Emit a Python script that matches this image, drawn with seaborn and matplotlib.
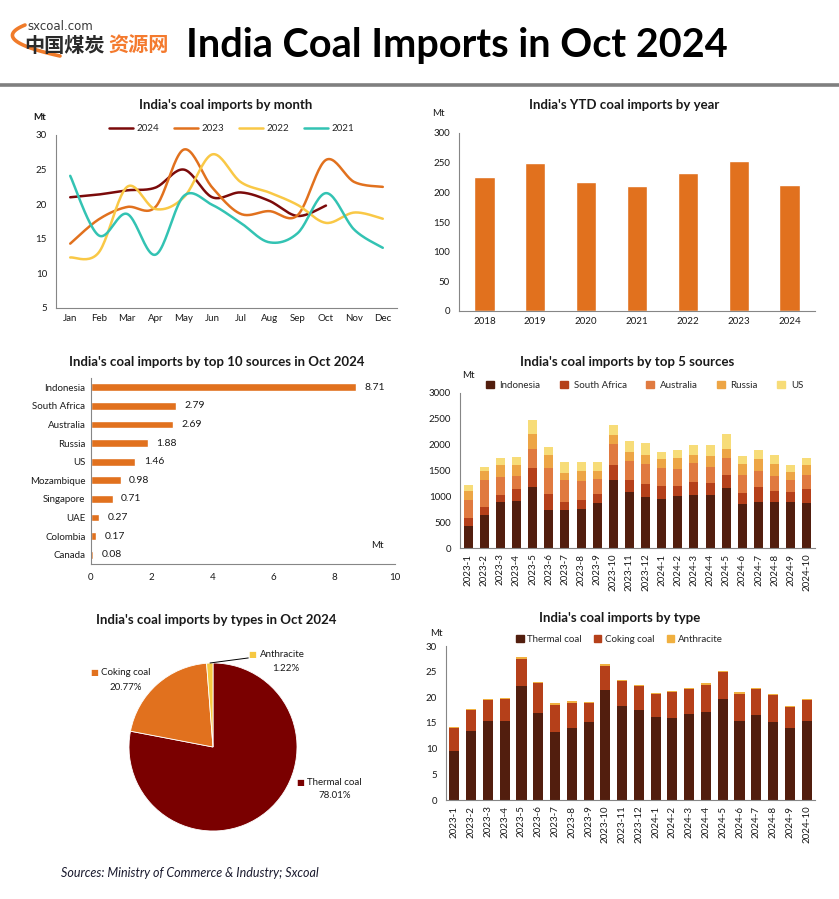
import numpy as np
import pandas as pd
import matplotlib
matplotlib.use("Agg")
import matplotlib.pyplot as plt
from matplotlib.patches import Patch
import seaborn as sns

# ---- data ----
months = ['Jan', 'Feb', 'Mar', 'Apr', 'May', 'Jun', 'Jul', 'Aug', 'Sep', 'Oct', 'Nov', 'Dec']
imp_2024 = [21.0, 21.4, 22.0, 22.4, 25.0, 21.0, 21.7, 20.5, 18.3, 19.8]
imp_2023 = [14.3, 17.8, 19.6, 19.6, 27.9, 22.4, 18.6, 19.0, 18.4, 26.4, 23.2, 22.5]
imp_2022 = [12.3, 13.0, 22.5, 19.3, 21.0, 27.2, 23.2, 21.7, 19.9, 17.3, 18.8, 17.9]
imp_2021 = [24.1, 15.5, 18.6, 12.7, 21.2, 19.9, 17.3, 14.5, 15.8, 21.6, 16.3, 13.7]

ytd_years = ['2018', '2019', '2020', '2021', '2022', '2023', '2024']
ytd_vals = [226, 250, 218, 211, 233, 252, 213]

top10_names = ['Indonesia', 'South Africa', 'Australia', 'Russia', 'US',
               'Mozambique', 'Singapore', 'UAE', 'Colombia', 'Canada']
top10_vals = [8.71, 2.79, 2.69, 1.88, 1.46, 0.98, 0.71, 0.27, 0.17, 0.08]

periods = ['2023-1', '2023-2', '2023-3', '2023-4', '2023-5', '2023-6', '2023-7', '2023-8',
           '2023-9', '2023-10', '2023-11', '2023-12', '2024-1', '2024-2', '2024-3', '2024-4',
           '2024-5', '2024-6', '2024-7', '2024-8', '2024-9', '2024-10']
src_indonesia = [430, 640, 890, 910, 1180, 740, 740, 760, 870, 1320, 1090, 990,
                 950, 1010, 1030, 1030, 1160, 860, 890, 890, 890, 870]
src_safrica = [150, 160, 140, 230, 370, 310, 150, 170, 180, 290, 230, 250,
               250, 190, 250, 230, 250, 210, 290, 220, 200, 270]
src_australia = [350, 520, 350, 260, 370, 500, 430, 370, 290, 400, 360, 390,
                 350, 330, 370, 310, 330, 340, 310, 290, 230, 270]
src_russia = [170, 170, 230, 210, 290, 250, 130, 190, 150, 180, 180, 170,
              170, 210, 150, 210, 180, 220, 230, 230, 150, 200]
src_us = [120, 80, 130, 150, 270, 160, 210, 170, 170, 190, 210, 230,
          140, 160, 190, 210, 280, 150, 180, 170, 140, 130]

type_thermal = [9.6, 13.5, 15.3, 15.3, 22.3, 17.0, 13.3, 14.1, 15.1, 21.5, 18.4, 17.6,
                16.2, 16.0, 16.8, 17.2, 19.7, 15.3, 16.6, 15.1, 14.1, 15.4]
type_coking = [4.5, 4.1, 4.2, 4.4, 5.2, 5.7, 5.3, 4.7, 3.7, 4.7, 4.8, 4.7,
               4.5, 5.1, 4.9, 5.3, 5.3, 5.4, 5.1, 5.4, 4.1, 4.1]
type_anthracite = [0.2, 0.2, 0.2, 0.2, 0.4, 0.2, 0.2, 0.4, 0.2, 0.2, 0.2, 0.2,
                   0.2, 0.2, 0.2, 0.2, 0.2, 0.4, 0.2, 0.2, 0.2, 0.2]

pie_labels = ['Thermal coal', 'Coking coal', 'Anthracite']
pie_shares = [78.01, 20.77, 1.22]

# ---- style ----
sns.set_style("white")
plt.rcParams['font.family'] = ['Lato', 'Noto Sans CJK SC', 'DejaVu Sans']
AX_GRAY = '#868686'
TXT = '#1a1a1a'
ORANGE = '#E1711E'

W, H = 839, 899
fig = plt.figure(figsize=(W / 100, H / 100), dpi=100)


def px_axes(l, t, r, b):
    return fig.add_axes([l / W, 1 - b / H, (r - l) / W, (b - t) / H])


def ftext(x, y, s, **kw):
    return fig.text(x / W, 1 - y / H, s, **kw)


def style_axes(ax):
    sns.despine(ax=ax)
    for s in ['left', 'bottom']:
        ax.spines[s].set_color(AX_GRAY)
        ax.spines[s].set_linewidth(0.8)
    ax.tick_params(axis='both', which='both', labelsize=7, color=AX_GRAY,
                   labelcolor=TXT, length=3, width=0.8, direction='out')
    ax.set_xlabel('')
    ax.set_ylabel('')


def between_ticks(ax, n, axis='x'):
    edges = np.arange(-0.5, n, 1)
    if axis == 'x':
        ax.set_xticks(edges, minor=True)
        ax.tick_params(axis='x', which='major', length=0, pad=4)
        ax.tick_params(axis='x', which='minor', length=4)
        ax.set_xlim(-0.5, n - 0.5)
    else:
        ax.set_yticks(edges, minor=True)
        ax.tick_params(axis='y', which='major', length=0, pad=4)
        ax.tick_params(axis='y', which='minor', length=4)
        ax.set_ylim(n - 0.5, -0.5)


def smooth(vals, n=24):
    # excel-like smoothed line (catmull-rom bezier)
    y = np.asarray(vals, float)
    x = np.arange(len(y), dtype=float)
    P = np.column_stack([x, y])
    P = np.vstack([P[0], P, P[-1]])
    t = np.linspace(0, 1, n)[:, None]
    out = []
    for i in range(1, len(P) - 2):
        p0, p1, p2, p3 = P[i - 1], P[i], P[i + 1], P[i + 2]
        c1 = p1 + (p2 - p0) / 6
        c2 = p2 - (p3 - p1) / 6
        seg = ((1 - t) ** 3) * p1 + 3 * ((1 - t) ** 2) * t * c1 + 3 * (1 - t) * t ** 2 * c2 + t ** 3 * p2
        out.append(seg)
    out = np.vstack(out)
    return out[:, 0], out[:, 1]


# ---- header ----
hdr = fig.add_axes([0, 1 - 90 / H, 1, 90 / H])
hdr.set_xlim(0, W)
hdr.set_ylim(90, 0)
hdr.axis('off')
tt = np.linspace(0, 1, 60)
bx = (1 - tt) ** 2 * 25 + 2 * tt * (1 - tt) * (-12) + tt ** 2 * 60
by = (1 - tt) ** 2 * 25 + 2 * tt * (1 - tt) * 40 + tt ** 2 * 56
hdr.plot(bx, by, color='#F07B2A', lw=2.6, solid_capstyle='round')
hdr.text(27, 27, 'sxcoal.com', fontsize=8.5, color='#3a3a3a', va='center', ha='left',
         family=['DejaVu Sans'])
hdr.text(24, 45, '中国煤炭', fontsize=14.5, weight='bold', color='#2a2a2a', va='center',
         ha='left', family=['Noto Sans CJK SC'])
hdr.text(108, 45, '资源网', fontsize=14.5, weight='bold', color='#F47A2E', va='center',
         ha='left', family=['Noto Sans CJK SC'])
hdr.text(186, 45, 'India Coal Imports in Oct 2024', fontsize=28.5, weight='bold',
         color='black', va='center', ha='left')
hdr.axhline(85, color='#7f7f7f', lw=2.6)

TITLE_KW = dict(fontsize=9.5, weight='bold', color=TXT, ha='center', va='center')

# ---- panel 1: monthly lines ----
ax1 = px_axes(56, 135, 397, 308)
line_series = [('2024', imp_2024, '#7B0A0A'), ('2023', imp_2023, ORANGE),
               ('2022', imp_2022, '#F9C846'), ('2021', imp_2021, '#33C3B3')]
for name, vals, col in line_series:
    sx, sy = smooth(vals)
    ax1.plot(sx, sy, color=col, lw=1.8, label=name, solid_capstyle='round')
style_axes(ax1)
ax1.set_ylim(5, 30)
ax1.set_yticks(range(5, 31, 5))
ax1.set_xticks(range(12))
ax1.set_xticklabels(months)
between_ticks(ax1, 12, 'x')
ax1.legend(loc='center', bbox_to_anchor=(0.515, 1.035), ncol=4, frameon=False, fontsize=7,
           handlelength=2.5, columnspacing=1.5, handletextpad=0.35)
ftext(226, 105, "India's coal imports by month", **TITLE_KW)
ftext(40, 118, 'Mt', fontsize=7, color=TXT, weight='bold', ha='center', va='center')

# ---- panel 2: YTD by year ----
ax2 = px_axes(459, 133, 815, 311)
sns.barplot(x=ytd_years, y=ytd_vals, color=ORANGE, saturation=1, width=0.4, ax=ax2)
style_axes(ax2)
ax2.set_ylim(0, 300)
ax2.set_yticks(range(0, 301, 50))
between_ticks(ax2, len(ytd_years), 'x')
ftext(624, 105, "India's YTD coal imports by year", **TITLE_KW)
ftext(438, 114, 'Mt', fontsize=7, color=TXT, ha='center', va='center')

# ---- panel 3: top 10 sources ----
ax3 = px_axes(91, 378, 395, 564)
sns.barplot(x=top10_vals, y=top10_names, orient='h', color=ORANGE, saturation=1,
            width=0.43, ax=ax3)
style_axes(ax3)
ax3.set_xlim(0, 10)
ax3.set_xticks(range(0, 11, 2))
between_ticks(ax3, len(top10_names), 'y')
ax3.bar_label(ax3.containers[0], labels=[f'{v:.2f}' for v in top10_vals], padding=6,
              fontsize=7.5, color=TXT)
ftext(217, 362, "India's coal imports by top 10 sources in Oct 2024", **TITLE_KW)
ftext(377, 546, 'Mt', fontsize=7, color=TXT, ha='center', va='center')

# ---- panel 4: top 5 sources stacked ----
ax4 = px_axes(460, 393, 815, 548)
xpos = np.arange(len(periods))
stack5 = [('Indonesia', src_indonesia, '#521E0E'), ('South Africa', src_safrica, '#B5401A'),
          ('Australia', src_australia, '#E07A40'), ('Russia', src_russia, '#EDA545'),
          ('US', src_us, '#F7DC78')]
bottom = np.zeros(len(periods))
for name, vals, col in stack5:
    ax4.bar(xpos, vals, bottom=bottom, width=0.56, color=col, label=name, linewidth=0)
    bottom += np.asarray(vals, float)
style_axes(ax4)
ax4.set_ylim(0, 3000)
ax4.set_yticks(range(0, 3001, 500))
ax4.set_xticks(xpos)
ax4.set_xticklabels(periods, rotation=90)
between_ticks(ax4, len(periods), 'x')
h4 = [Patch(color=c, label=n) for n, _, c in stack5]
ax4.legend(handles=h4, loc='center', bbox_to_anchor=(0.52, 1.05), ncol=5, frameon=False,
           fontsize=7, handlelength=0.8, handleheight=0.8, columnspacing=2.0,
           handletextpad=0.6)
ftext(627, 362, "India's coal imports by top 5 sources", **TITLE_KW)
ftext(468, 376, 'Mt', fontsize=7, color=TXT, ha='center', va='center')

# ---- panel 5: pie by type ----
ax5 = px_axes(129, 663, 297, 831)
pie_cols = ['#7A0000', ORANGE, '#F6C842']
ax5.pie(pie_shares, colors=pie_cols, startangle=90, counterclock=False, radius=1,
        wedgeprops=dict(edgecolor='white', linewidth=0.6))
ax5.set_xlim(-1, 1)
ax5.set_ylim(-1, 1)
ax5.set_aspect('equal')
lab_kw = dict(fontsize=7, color=TXT, va='center', clip_on=False)
# coking coal label
ax5.text(-1.41, 0.89, '■', color=ORANGE, ha='center', fontsize=6, va='center',
         family=['DejaVu Sans'], clip_on=False)
ax5.text(-1.33, 0.89, 'Coking coal', ha='left', **lab_kw)
ax5.text(-1.04, 0.71, f'{pie_shares[1]:.2f}%', ha='center', **lab_kw)
# anthracite label
ax5.plot([-0.036, 0.42], [1.0, 1.06], color='black', lw=0.7, clip_on=False)
ax5.text(0.47, 1.10, '■', color='#F6C842', ha='center', fontsize=6, va='center',
         family=['DejaVu Sans'], clip_on=False)
ax5.text(0.56, 1.10, 'Anthracite', ha='left', **lab_kw)
ax5.text(0.86, 0.93, f'{pie_shares[2]:.2f}%', ha='center', **lab_kw)
# thermal coal label
ax5.text(1.04, -0.42, '■', color='#7A0000', ha='center', fontsize=6, va='center',
         family=['DejaVu Sans'], clip_on=False)
ax5.text(1.12, -0.42, 'Thermal coal', ha='left', **lab_kw)
ax5.text(1.45, -0.58, f'{pie_shares[0]:.2f}%', ha='center', **lab_kw)
ftext(216, 620, "India's coal imports by types in Oct 2024", **TITLE_KW)

# ---- panel 6: by type stacked ----
ax6 = px_axes(446, 646, 815, 800)
stack3 = [('Thermal coal', type_thermal, '#521E0E'), ('Coking coal', type_coking, '#B5401A'),
          ('Anthracite', type_anthracite, '#F0B040')]
bottom = np.zeros(len(periods))
for name, vals, col in stack3:
    ax6.bar(xpos, vals, bottom=bottom, width=0.6, color=col, label=name, linewidth=0)
    bottom += np.asarray(vals, float)
style_axes(ax6)
ax6.set_ylim(0, 30)
ax6.set_yticks(range(0, 31, 5))
ax6.set_xticks(xpos)
ax6.set_xticklabels(periods, rotation=90)
between_ticks(ax6, len(periods), 'x')
h6 = [Patch(color=c, label=n) for n, _, c in stack3]
ax6.legend(handles=h6, loc='center', bbox_to_anchor=(0.47, 1.045), ncol=3, frameon=False,
           fontsize=7, handlelength=0.8, handleheight=0.8, columnspacing=1.2,
           handletextpad=0.4)
ftext(620, 618, "India's coal imports by type", **TITLE_KW)
ftext(436, 634, 'Mt', fontsize=7, color=TXT, ha='center', va='center')

# ---- footer ----
ftext(61, 873, 'Sources: Ministry of Commerce & Industry; Sxcoal', fontsize=9,
      style='italic', color='#1a1a2e', ha='left', va='center')

fig.savefig('out.png', dpi=100)
